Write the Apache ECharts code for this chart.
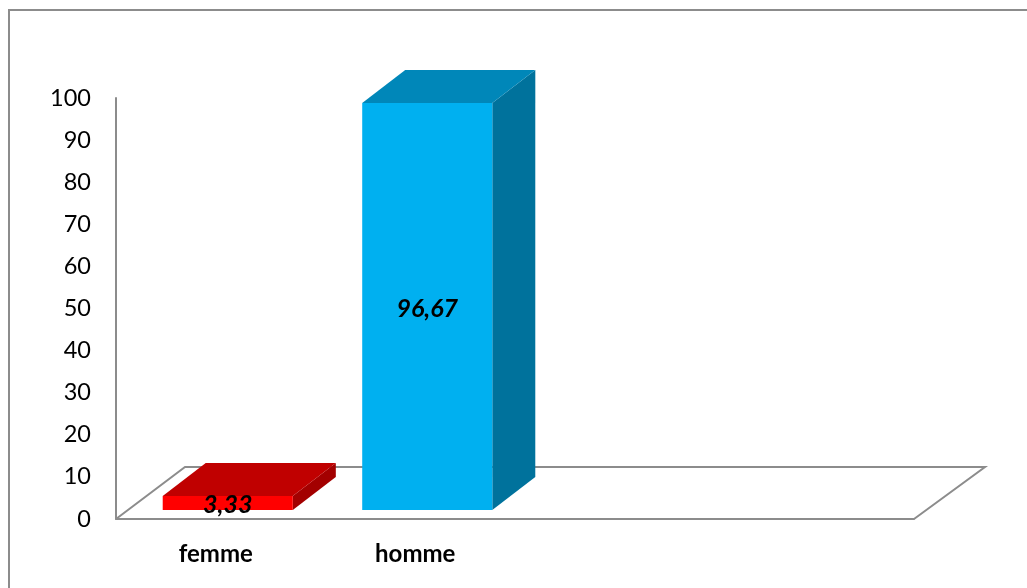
<!DOCTYPE html>
<html>
<head>
<meta charset="utf-8">
<style>
html,body{margin:0;padding:0;background:#fff;}
#wrap{position:relative;width:1027px;height:588px;overflow:hidden;}
#frame{position:absolute;left:8px;top:9px;width:1100px;height:700px;border:2px solid #8c8c8c;box-sizing:border-box;}
#chart{position:absolute;left:0;top:0;width:1027px;height:588px;}
</style>
<script src="https://cdn.jsdelivr.net/npm/echarts@6/dist/echarts.min.js"></script>
</head>
<body>
<div id="wrap"><div id="frame"></div><div id="chart"></div></div>
<script>
const categories = ['femme', 'homme', '', ''];
const values = [3.33, 96.67];
const yTicks = { min: 0, max: 100, interval: 10 };
const frontColors = ['#FF0000', '#00B0F0'];
const topColors = ['#C00000', '#0087B9'];
const sideColors = ['#A30000', '#00729C'];

const chart = echarts.init(document.getElementById('chart'));
const FONT = 'Lato, Carlito, Calibri, sans-serif';
const FLOOR_DX = 69, FLOOR_DY = -52;
const OFF_DX = 12, OFF_DY = -9;
const DEP_DX = 43, DEP_DY = -33;

function fmt(v) { return v.toFixed(2).replace('.', ','); }

const barData = values.map((v, i) => [i, v]);

chart.setOption({
  animation: false,
  grid: { left: 116, right: 113, top: 98, bottom: 69 },
  xAxis: {
    type: 'category',
    data: categories,
    axisLine: { show: true, lineStyle: { color: '#8c8c8c', width: 2 } },
    axisTick: { show: false },
    axisLabel: { color: '#000', fontFamily: FONT, fontWeight: 'bold', fontSize: 24, margin: 23 },
    splitLine: { show: false }
  },
  yAxis: {
    type: 'value',
    min: yTicks.min, max: yTicks.max, interval: yTicks.interval,
    axisLine: { show: true, lineStyle: { color: '#8c8c8c', width: 2 } },
    axisTick: { show: false },
    axisLabel: { color: '#000', fontFamily: FONT, fontSize: 23.5, margin: 25 },
    splitLine: { show: false }
  },
  series: [
    {
      type: 'custom',
      z: 1,
      silent: true,
      data: [[0, 0]],
      renderItem: function (params, api) {
        const cs = params.coordSys;
        const x0 = cs.x, x1 = cs.x + cs.width, y = cs.y + cs.height;
        return {
          type: 'polyline',
          shape: { points: [[x0, y], [x0 + FLOOR_DX, y + FLOOR_DY], [x1 + FLOOR_DX + 2, y + FLOOR_DY], [x1, y]] },
          style: { stroke: '#8c8c8c', lineWidth: 2, fill: null }
        };
      }
    },
    {
      type: 'custom',
      z: 5,
      data: barData,
      renderItem: function (params, api) {
        const i = api.value(0);
        const v = api.value(1);
        const base = api.coord([i, 0]);
        const top = api.coord([i, v]);
        const band = api.size([1, 0])[0];
        const w = band * 0.652;
        const cx = base[0] + OFF_DX;
        const xl = cx - w / 2, xr = cx + w / 2;
        const yb = base[1] + OFF_DY;
        const yt = top[1] + OFF_DY;
        const idx = params.dataIndex;
        return {
          type: 'group',
          children: [
            {
              type: 'polygon',
              shape: { points: [[xr, yb], [xr + DEP_DX, yb + DEP_DY], [xr + DEP_DX, yt + DEP_DY], [xr, yt]] },
              style: { fill: sideColors[idx] }
            },
            {
              type: 'polygon',
              shape: { points: [[xl, yt], [xl + DEP_DX, yt + DEP_DY], [xr + DEP_DX, yt + DEP_DY], [xr, yt]] },
              style: { fill: topColors[idx] }
            },
            {
              type: 'rect',
              shape: { x: xl, y: yt, width: w, height: yb - yt },
              style: { fill: frontColors[idx] }
            },
            {
              type: 'text',
              style: {
                text: fmt(v),
                x: cx, y: (yt + yb) / 2 + 2,
                align: 'center', verticalAlign: 'middle',
                fontFamily: FONT, fontSize: 25, fontWeight: 'bold', fontStyle: 'italic',
                fill: '#000'
              }
            }
          ]
        };
      }
    }
  ]
});
</script>
</body>
</html>
